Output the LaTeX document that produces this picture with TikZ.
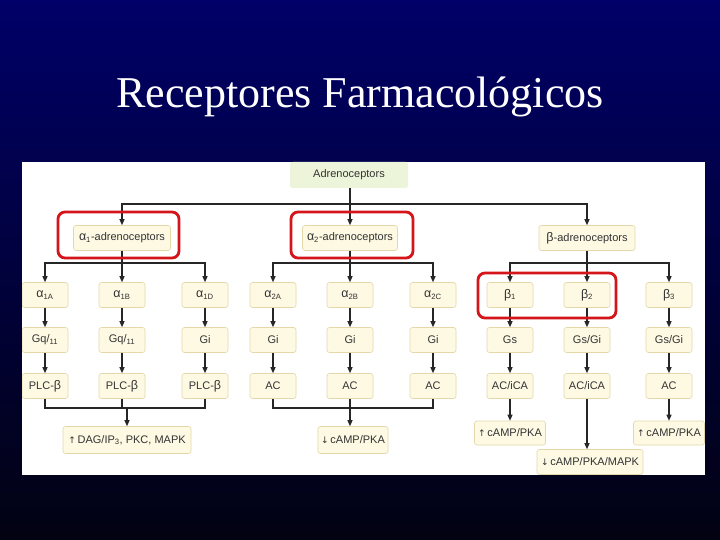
\documentclass[tikz,border=0pt]{standalone}
\usepackage{fontspec}
\setmainfont{Liberation Serif}
\setsansfont{Liberation Sans}
\newfontfamily\arrowfont{DejaVu Sans}
\usetikzlibrary{positioning,calc,arrows.meta}

\definecolor{slidetop}{RGB}{0,0,104}
\definecolor{slidebot}{RGB}{2,2,18}
\definecolor{boxfill}{RGB}{253,249,227}
\definecolor{boxline}{RGB}{228,215,170}
\definecolor{topfill}{RGB}{236,245,218}
\definecolor{markred}{RGB}{212,22,26}

\newcommand{\up}{{\arrowfont\fontsize{9}{10}\selectfont ↑}\,}
\newcommand{\down}{{\arrowfont\fontsize{9}{10}\selectfont ↓}\,}
\newcommand{\gk}[1]{{\fontsize{12.5}{13}\selectfont #1}}

\tikzset{
  rec/.style={draw=boxline, fill=boxfill, rounded corners=2.5pt, line width=0.6pt,
    minimum width=46pt, minimum height=25pt, inner sep=1pt,
    font=\sffamily\fontsize{11}{13}\selectfont, text=black!80},
  wire/.style={draw=black!85, line width=1.1pt},
  arr/.style={wire, -{Triangle[length=6pt,width=5pt]}},
  redframe/.style={draw=markred, line width=2.8pt, rounded corners=7pt}
}

\begin{document}
\begin{tikzpicture}[x=1pt,y=-1pt]
  % slide background
  \shade[top color=slidetop, bottom color=slidebot] (0,0) rectangle (720,540);
  \useasboundingbox (0,0) rectangle (720,540);
  \node[text=white, font=\fontsize{44}{50}\selectfont, anchor=base] (title) at (360,108) {Receptores Farmacológicos};

  % white panel
  \fill[white] (22,162) rectangle (705,475);

  \begin{scope}
    \clip (22,162) rectangle (705,475);

    % families
    \node[rec, fill=topfill, draw=none, minimum width=118pt, minimum height=26pt] (adr) at (349,175) {Adrenoceptors};
    \node[rec, minimum width=97pt] (aone) at (122,238) {\gk{α}\textsubscript{1}-adrenoceptors};
    \node[rec, minimum width=95pt] (atwo) at (350,238) {\gk{α}\textsubscript{2}-adrenoceptors};
    \node[rec, minimum width=96pt] (beta) at (587,238) {\gk{β}-adrenoceptors};

    \coordinate (bus) at (350,204);
    \draw[arr] (adr.south -| bus) -- (atwo.north);
    \draw[arr] (bus) -| (aone.north);
    \draw[arr] (bus) -| (beta.north);

    % subtypes, G proteins, effectors
    \foreach \n/\x/\ra/\rb/\rc in {
      aA/45/{\gk{α}\textsubscript{1A}}/{Gq/\textsubscript{11}}/{PLC-\gk{β}},
      aB/122/{\gk{α}\textsubscript{1B}}/{Gq/\textsubscript{11}}/{PLC-\gk{β}},
      aD/205/{\gk{α}\textsubscript{1D}}/Gi/{PLC-\gk{β}},
      bA/273/{\gk{α}\textsubscript{2A}}/Gi/AC,
      bB/350/{\gk{α}\textsubscript{2B}}/Gi/AC,
      bC/433/{\gk{α}\textsubscript{2C}}/Gi/AC,
      cA/510/{\gk{β}\textsubscript{1}}/Gs/{AC/iCA},
      cB/587/{\gk{β}\textsubscript{2}}/{Gs/Gi}/{AC/iCA},
      cC/669/{\gk{β}\textsubscript{3}}/{Gs/Gi}/AC}
    {
      \node[rec] (\n1) at (\x,295) {\ra};
      \node[rec] (\n2) at (\x,340) {\rb};
      \node[rec] (\n3) at (\x,386) {\rc};
      \draw[arr] (\n1) -- (\n2);
      \draw[arr] (\n2) -- (\n3);
    }

    \coordinate (split) at (0,263);
    \foreach \c in {aA,aB,aD} \draw[arr] (aone.south) |- (\c1.north |- split) -- (\c1.north);
    \foreach \c in {bA,bB,bC} \draw[arr] (atwo.south) |- (\c1.north |- split) -- (\c1.north);
    \foreach \c in {cA,cB,cC} \draw[arr] (beta.south) |- (\c1.north |- split) -- (\c1.north);

    % second messengers
    \node[rec, minimum width=128pt, minimum height=27pt] (aoneres) at (127,440) {\up DAG/IP\textsubscript{3}, PKC, MAPK};
    \node[rec, minimum width=70pt, minimum height=27pt] (atwores) at (353,440) {\down cAMP/PKA};
    \node[rec, minimum width=71pt, minimum height=24pt] (cAres) at (510,433) {\up cAMP/PKA};
    \node[rec, minimum width=106pt, minimum height=25pt] (cBres) at (590,462) {\down cAMP/PKA/MAPK};
    \node[rec, minimum width=71pt, minimum height=24pt] (cCres) at (669,433) {\up cAMP/PKA};

    \coordinate (merge) at (0,408);
    \draw[wire] (aA3.south) |- (aD3.south |- merge) -- (aD3.south);
    \draw[wire] (aB3.south) -- (aB3.south |- merge);
    \draw[arr] (aoneres.north |- merge) -- (aoneres.north);
    \draw[wire] (bA3.south) |- (bC3.south |- merge) -- (bC3.south);
    \draw[arr] (bB3.south) -- (bB3.south |- atwores.north);
    \draw[arr] (cA3) -- (cA3.south |- cAres.north);
    \draw[arr] (cB3) -- (cB3.south |- cBres.north);
    \draw[arr] (cC3) -- (cC3.south |- cCres.north);

    % highlighted groups
    \draw[redframe] (58,212) rectangle (179,258);
    \draw[redframe] (291,212) rectangle (413,258);
    \draw[redframe] (478,273) rectangle (616,318);
  \end{scope}
\end{tikzpicture}
\end{document}
